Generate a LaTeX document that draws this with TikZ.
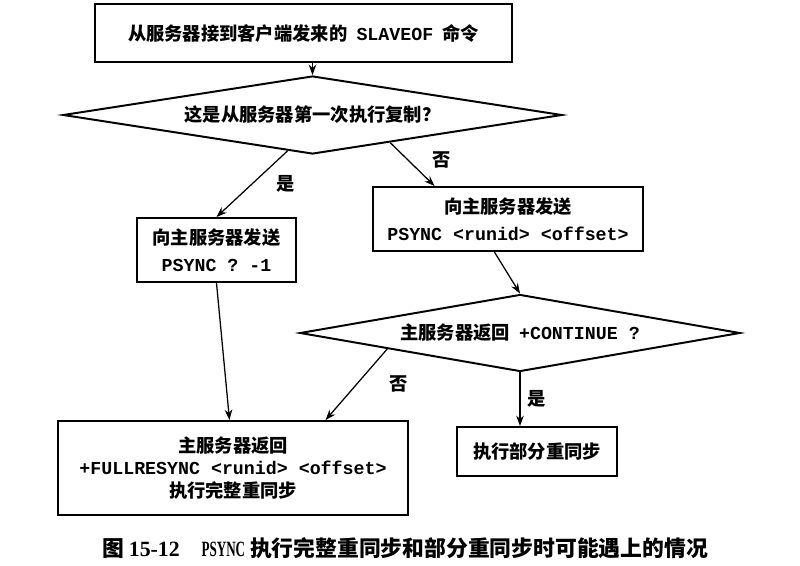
\documentclass[tikz,border=0pt]{standalone}
\usepackage{fontspec}
\newfontfamily\cjk{Noto Sans CJK SC}
\newfontfamily\monof{Liberation Mono}
\newfontfamily\serf{Liberation Serif}
\newfontfamily\serfc{Liberation Serif}[FakeStretch=0.6]
\newcommand{\tty}[1]{{\monof\bfseries #1}}
\usepackage{tikz}
\usetikzlibrary{positioning,arrows.meta,shapes.geometric,calc}

\begin{document}
\begin{tikzpicture}[
  x=0.025cm, y=-0.025cm,
  >={Stealth[length=2.6mm,width=1.9mm]},
  box/.style={draw, line width=1.4pt, align=center, inner sep=0pt,
              font=\cjk\bfseries\fontsize{13}{19}\selectfont},
  dec/.style={draw, diamond, line width=1.4pt, inner sep=0pt,
              font=\cjk\bfseries\fontsize{13}{19}\selectfont},
  flow/.style={->, line width=0.9pt},
  lb/.style={font=\cjk\bfseries\fontsize{13}{16}\selectfont, inner sep=0pt}]

  \useasboundingbox (0,0) rectangle (800,565);

  \node[box, minimum width=10.425cm, minimum height=1.45cm] (recv) at (303.5,33)
    {从服务器接到客户端发来的\enspace\tty{SLAVEOF}\enspace 命令};
  \node[dec, aspect=6.4, minimum width=12.475cm, minimum height=1.95cm] (first) at (312.5,115)
    {这是从服务器第一次执行复制？};
  \node[box, minimum width=3.975cm, minimum height=1.6cm] (lbox) at (216.5,250)
    {向主服务器发送\\ \tty{PSYNC ? -1}};
  \node[box, minimum width=6.75cm, minimum height=1.6cm] (rbox) at (508,219)
    {向主服务器发送\\ \tty{PSYNC <runid> <offset>}};
  \node[dec, aspect=5.7, minimum width=11cm, minimum height=1.925cm] (cont) at (520,333)
    {主服务器返回\enspace\tty{+CONTINUE ?}};
  \node[box, minimum width=4cm, minimum height=1.225cm] (pbox) at (537,451.5)
    {执行部分重同步};
  \node[box, minimum width=8.75cm, minimum height=2.35cm,
        font=\cjk\bfseries\fontsize{13}{16}\selectfont] (fbox) at (233,468)
    {主服务器返回\\ \tty{+FULLRESYNC <runid> <offset>}\\ 执行完整重同步};

  \draw[flow] (first.north |- recv.south) -- (first.north);
  \draw[flow] ($(first.south)!0.1!(first.west)$) -- (lbox.north)
    node[lb, midway, right=6mm] {是};
  \draw[flow] ($(first.south)!0.31!(first.east)$) -- ($(rbox.north west)!0.23!(rbox.north east)$)
    node[lb, pos=0.4, right=6mm] {否};
  \draw[flow] (lbox.south) -- ($(fbox.north west)!0.49!(fbox.north east)$);
  \draw[flow] ($(rbox.south west)!0.45!(rbox.south east)$) -- (cont.north);
  \draw[flow] ($(cont.south)!0.6!(cont.west)$) -- ($(fbox.north west)!0.763!(fbox.north east)$)
    node[lb, midway, right=8mm] {否};
  \draw[flow] (cont.south) -- (cont.south |- pbox.north)
    node[lb, midway, right=1.8mm] {是};

  \node[font=\cjk\bfseries\fontsize{15.5}{18}\selectfont] (cap) at (405,548)
    {图 {\serf\bfseries 15-12}\quad{\serfc\bfseries PSYNC} 执行完整重同步和部分重同步时可能遇上的情况};
\end{tikzpicture}
\end{document}
